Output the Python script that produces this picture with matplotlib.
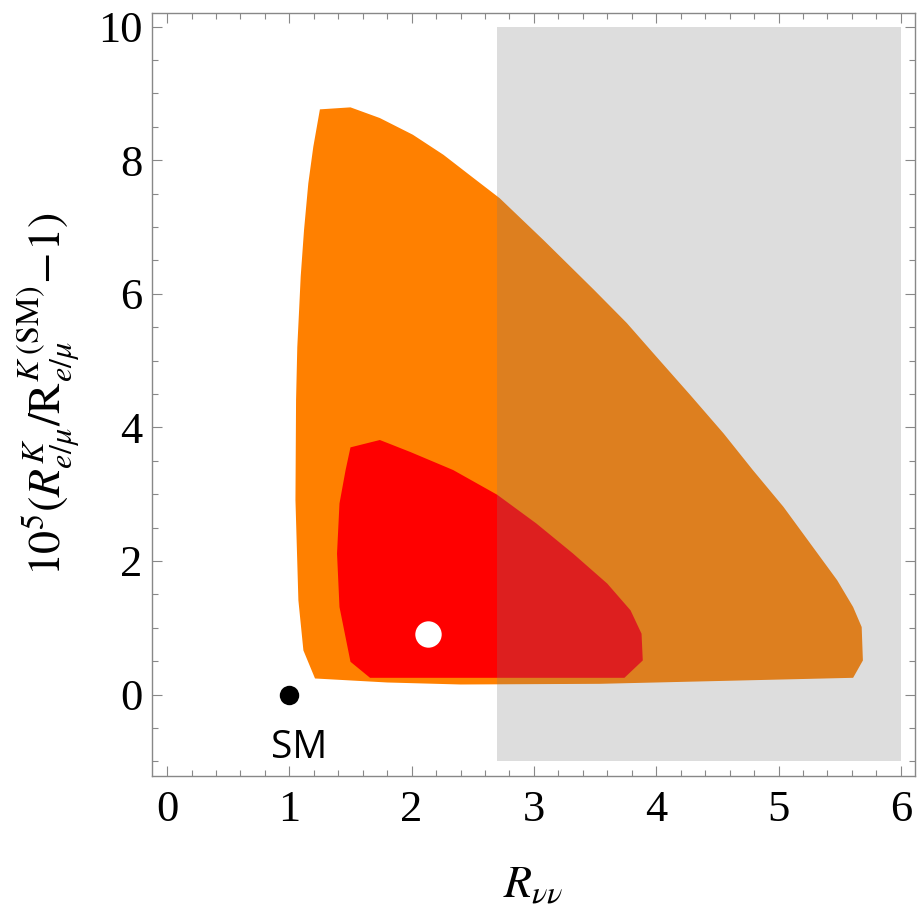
import numpy as np
import matplotlib
matplotlib.use('Agg')
import matplotlib.pyplot as plt
from matplotlib.patches import Polygon, Rectangle

plt.rcParams['font.family'] = ['Liberation Serif', 'DejaVu Serif']
plt.rcParams['mathtext.fontset'] = 'stix'

# outer (orange) allowed region (clockwise from top-left corner)
orange_x = [1.25, 1.50, 1.74, 2.01, 2.26, 2.50, 2.72, 3.08, 3.49, 3.76, 4.00,
            4.28, 4.55, 4.79, 5.04, 5.28, 5.48, 5.61, 5.68, 5.69, 5.61,
            4.69, 3.54, 2.40, 1.80, 1.21,
            1.115, 1.074, 1.05, 1.055, 1.065, 1.08, 1.093, 1.12, 1.155, 1.196]
orange_y = [8.76, 8.79, 8.63, 8.38, 8.08, 7.74, 7.43, 6.80, 6.06, 5.56, 5.06,
            4.48, 3.91, 3.36, 2.81, 2.21, 1.71, 1.31, 1.01, 0.51, 0.25,
            0.21, 0.16, 0.15, 0.18, 0.24,
            0.66, 1.41, 2.91, 4.41, 5.20, 5.76, 6.26, 6.95, 7.65, 8.20]

# inner (red) region
red_x = [1.50, 1.74, 1.99, 2.34, 2.70, 3.02, 3.32, 3.60, 3.79, 3.88, 3.89, 3.74,
         1.66, 1.50, 1.41, 1.39, 1.41, 1.46]
red_y = [3.70, 3.81, 3.63, 3.36, 2.99, 2.56, 2.11, 1.66, 1.26, 0.91, 0.51, 0.25,
         0.25, 0.49, 1.31, 2.11, 2.86, 3.36]

# excluded band in R_nunu
excl_x = [2.70, 6.00]
excl_y = [-1.0, 10.0]

best_fit = (2.13, 0.91)
sm_point = (1.0, 0.0)

fig = plt.figure(figsize=(9.22, 9.09), dpi=100)
ax = fig.add_axes([152/922, 1 - 776/909, 763/922, 763.5/909])

ax.add_patch(Polygon(np.column_stack([orange_x, orange_y]), closed=True,
                     facecolor='#ff8000', edgecolor='none'))
ax.add_patch(Polygon(np.column_stack([red_x, red_y]), closed=True,
                     facecolor='#ff0000', edgecolor='none'))
ax.add_patch(Rectangle((excl_x[0], excl_y[0]), excl_x[1] - excl_x[0], excl_y[1] - excl_y[0],
                       facecolor=(0.49, 0.49, 0.49), alpha=0.255, edgecolor='none'))

ax.plot(*best_fit, 'o', color='white', markersize=19, markeredgewidth=0)
ax.plot(*sm_point, 'o', color='black', markersize=14, markeredgewidth=0)
ax.text(1.078, -0.955, 'SM', fontsize=28, family='Open Sans', ha='center', va='baseline')

ax.set_xlim(-0.123, 6.116)
ax.set_ylim(-1.22, 10.21)
ax.set_xticks(np.arange(0, 7, 1))
ax.set_xticks(np.arange(0, 6.01, 0.2), minor=True)
ax.set_yticks(np.arange(0, 11, 2))
ax.set_yticks(np.arange(-1, 10.01, 0.5), minor=True)

for s in ax.spines.values():
    s.set_color('#888888')
    s.set_linewidth(1.0)
ax.tick_params(which='both', direction='in', top=True, right=True, color='#888888',
               labelsize=32, width=0.8)
ax.tick_params(which='major', length=7.5)
ax.tick_params(which='minor', length=4)
ax.tick_params(axis='x', pad=10)
ax.tick_params(axis='y', pad=7)

ax.set_xlabel(r'$R_{\nu\nu}$', fontsize=33)
ax.xaxis.label.set_va('baseline')
ax.xaxis.set_label_coords(0.5, (776 - 898) / 763.5)
ax.set_ylabel(r'$10^5(R^K_{e/\mu}/\mathrm{R}^{K\;\mathrm{(SM)}}_{e/\mu}\!-\!1)$', fontsize=33)
ax.yaxis.label.set_va('baseline')
ax.yaxis.set_label_coords((62 - 152) / 763, 0.5)

fig.savefig('out.png', dpi=100)
